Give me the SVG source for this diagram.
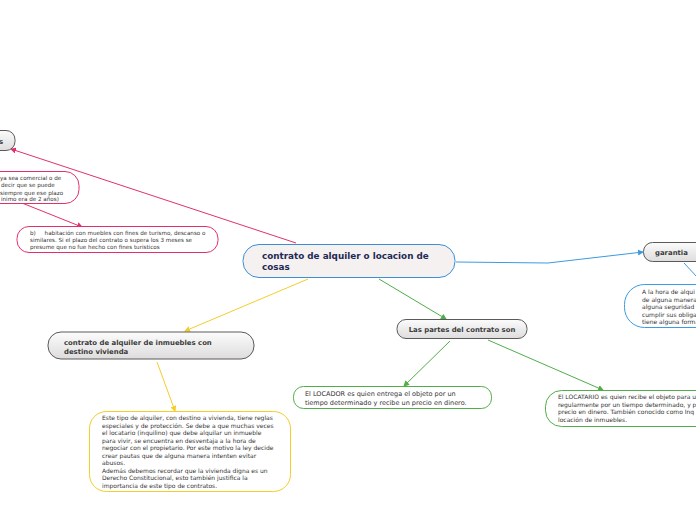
<svg xmlns="http://www.w3.org/2000/svg" width="696" height="520" viewBox="0 0 696 520">
<defs>
<linearGradient id="gray" x1="0" y1="0" x2="0" y2="1">
<stop offset="0" stop-color="#fcfcfc"/>
<stop offset="1" stop-color="#dedcdc"/>
</linearGradient>
<marker id="ap" viewBox="0 0 6 6" refX="5" refY="3" markerWidth="6" markerHeight="6" orient="auto" markerUnits="userSpaceOnUse"><path d="M0,0 L6,3 L0,6 Z" fill="#e2306c"/></marker>
<marker id="ay" viewBox="0 0 6 6" refX="5" refY="3" markerWidth="6" markerHeight="6" orient="auto" markerUnits="userSpaceOnUse"><path d="M0,0 L6,3 L0,6 Z" fill="#f4cd2a"/></marker>
<marker id="ag" viewBox="0 0 6 6" refX="5" refY="3" markerWidth="6" markerHeight="6" orient="auto" markerUnits="userSpaceOnUse"><path d="M0,0 L6,3 L0,6 Z" fill="#4fae47"/></marker>
<marker id="ab" viewBox="0 0 6 6" refX="5" refY="3" markerWidth="6" markerHeight="6" orient="auto" markerUnits="userSpaceOnUse"><path d="M0,0 L6,3 L0,6 Z" fill="#3a9be0"/></marker>
</defs>
<style>
text{font-family:"DejaVu Sans",Verdana,sans-serif;fill:#333}
.gray{fill:url(#gray);stroke:#5a5a5a;stroke-width:1}
.hd{font-weight:bold;font-size:6.9px;fill:#3a3a3a}
.c{fill:none;stroke-width:1}
.p{stroke:#e2306c}.y{stroke:#f4cd2a}.g{stroke:#4fae47}.b{stroke:#3a9be0}
.sm{font-size:5.6px}
.sd{font-size:6px}
.md{font-size:6.5px}
</style>
<rect width="696" height="520" fill="#ffffff"/>
<g id="connectors">
<path class="c p" d="M296,243 L11,149" marker-end="url(#ap)"/>
<path class="c p" d="M22,203 L82,227" marker-end="url(#ap)"/>
<path class="c y" d="M308,279 L185,331" marker-end="url(#ay)"/>
<path class="c y" d="M157,362 L175,411" marker-end="url(#ay)"/>
<path class="c g" d="M379,279 L446,319" marker-end="url(#ag)"/>
<path class="c g" d="M450,341 L404,386" marker-end="url(#ag)"/>
<path class="c g" d="M488,340 L603,390" marker-end="url(#ag)"/>
<path class="c b" d="M456,262 L548,263 L643,252" marker-end="url(#ab)"/>
<path class="c b" d="M684,263 L697,277"/>
</g>
<g id="central">
<rect x="243" y="244.5" width="212" height="33" rx="16" fill="#f5f1f1" stroke="#3a8fd6" stroke-width="1"/>
<text x="262" y="259" style="font-weight:bold;font-size:8.8px;fill:#1f2a55">contrato de alquiler o locacion de</text>
<text x="262" y="270" style="font-weight:bold;font-size:8.8px;fill:#1f2a55">cosas</text>
</g>
<g id="node-s">
<rect x="-40" y="130.5" width="55" height="20" rx="9" class="gray"/>
<text x="-1" y="143.5" class="hd">s</text>
</g>
<g id="node-a">
<rect x="-60" y="171.5" width="139" height="32" rx="14" fill="#fff" stroke="#e2306c"/>
<g class="sm"><text x="0" y="179.5">ya sea comercial o de</text>
<text x="1" y="187">decir que se puede</text>
<text x="0" y="194.5">siempre que ese plazo</text>
<text x="1" y="201">inimo era de 2 años)</text></g>
</g>
<g id="node-b">
<rect x="17" y="226.5" width="201" height="26" rx="12" fill="#fff" stroke="#e2306c"/>
<g class="sm"><text x="30" y="235" xml:space="preserve">b)     habitación con muebles con fines de turismo, descanso o</text>
<text x="30" y="242">similares. Si el plazo del contrato o supera los 3 meses se</text>
<text x="30" y="249">presume que no fue hecho con fines turisticos</text></g>
</g>
<g id="node-vivienda">
<rect x="48" y="332" width="206" height="27" rx="13" class="gray"/>
<text x="64" y="344.5" class="hd">contrato de alquiler de inmuebles con</text>
<text x="64" y="353.5" class="hd">destino vivienda</text>
</g>
<g id="node-vivienda-desc">
<rect x="89.5" y="411.5" width="201" height="80" rx="17" fill="#fff" stroke="#f4cd2a"/>
<g class="sd">
<text x="102" y="420">Este tipo de alquiler, con destino a vivienda, tiene reglas</text>
<text x="102" y="427.5">especiales y de protección. Se debe a que muchas veces</text>
<text x="102" y="435">el locatario (inquilino) que debe alquilar un inmueble</text>
<text x="102" y="442.5">para vivir, se encuentra en desventaja a la hora de</text>
<text x="102" y="450">negociar con el propietario. Por este motivo la ley decide</text>
<text x="102" y="457.5">crear pautas que de alguna manera intenten evitar</text>
<text x="102" y="465">abusos.</text>
<text x="102" y="472.5">Además debemos recordar que la vivienda digna es un</text>
<text x="102" y="480">Derecho Constitucional, esto también justifica la</text>
<text x="102" y="487.5">importancia de este tipo de contratos.</text>
</g>
</g>
<g id="node-partes">
<rect x="397" y="319.5" width="130" height="19" rx="9" class="gray"/>
<text x="462" y="332" class="hd" text-anchor="middle">Las partes del contrato son</text>
</g>
<g id="node-locador">
<rect x="293.5" y="386.5" width="198" height="22" rx="10" fill="#fff" stroke="#4fae47"/>
<text x="305" y="396" class="md">El LOCADOR es quien entrega el objeto por un</text>
<text x="305" y="404.5" class="md">tiempo determinado y recibe un precio en dinero.</text>
</g>
<g id="node-locatario">
<rect x="545.5" y="390.5" width="190" height="36" rx="16" fill="#fff" stroke="#4fae47"/>
<g class="sd">
<text x="558" y="399">El LOCATARIO es quien recibe el objeto para u</text>
<text x="558" y="406.5">regularmente por un tiempo determinado, y p</text>
<text x="558" y="414">precio en dinero. También conocido como Inq</text>
<text x="558" y="421.5">locación de inmuebles.</text>
</g>
</g>
<g id="node-garantia">
<rect x="643.5" y="242.5" width="70" height="19" rx="9" class="gray"/>
<text x="655" y="254.5" class="hd">garantia</text>
</g>
<g id="node-garantia-desc">
<rect x="624.5" y="284.5" width="110" height="43" rx="20" fill="#fff" stroke="#3a9be0"/>
<g class="sd">
<text x="642" y="294">A la hora de alqui</text>
<text x="642" y="301.5">de alguna manera</text>
<text x="642" y="309">alguna seguridad .</text>
<text x="642" y="316.5">cumplir sus obliga</text>
<text x="642" y="324">tiene alguna forma</text>
</g>
</g>
</svg>
